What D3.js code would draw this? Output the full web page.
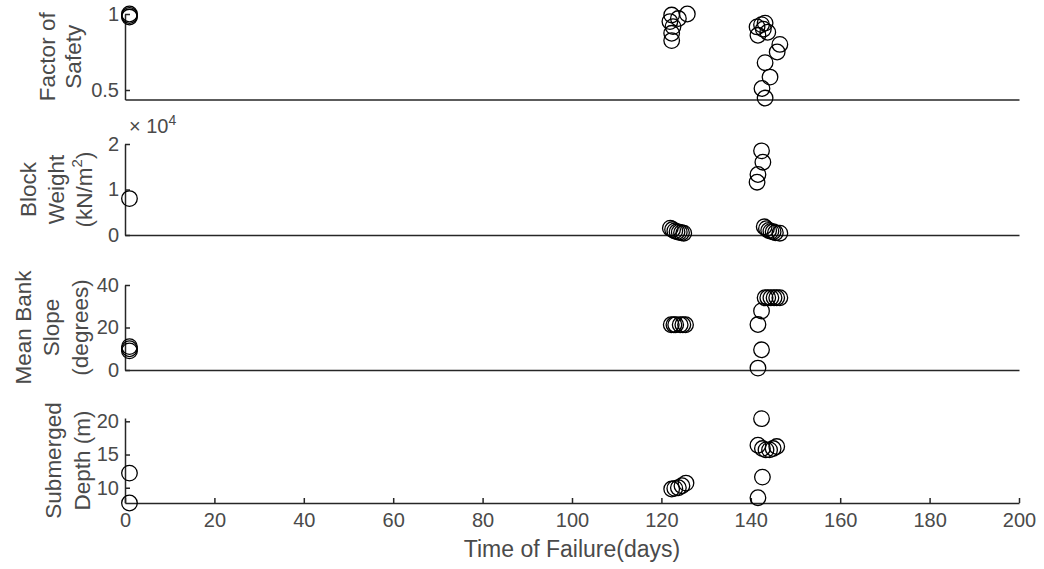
<!DOCTYPE html>
<html>
<head>
<meta charset="utf-8">
<script src="https://cdn.jsdelivr.net/npm/d3@7"></script>
<style>
  body { margin: 0; background: #fff; }
  svg text { font-family: "Liberation Sans", Arial, sans-serif; fill: #4a4a4a; }
  .axis path, .axis line { stroke: #262626; stroke-width: 1.5; }
</style>
</head>
<body>
<div id="chart"></div>
<script>
// data: time of failure (days) vs each quantity
var fosDays = [1, 1, 1, 122.3, 125.8, 121.9, 123.8, 122.6, 122.3, 122.3,
  141.4, 143.2, 143.8, 141.6, 146.5, 145.9, 143.2, 144.3, 142.5, 143.2, 142.4, 142.8];
var fosVals = [1.0, 0.98, 0.99, 0.993, 1.0, 0.95, 0.97, 0.917, 0.873, 0.825,
  0.915, 0.94, 0.88, 0.86, 0.80, 0.75, 0.68, 0.585, 0.51, 0.447, 0.93, 0.90];

var weightDays = [1, 122, 122.5, 123, 123.5, 124, 124.5, 125,
  142.4, 142.7, 141.6, 141.4, 143, 143.5, 144, 144.5, 145, 145.5, 146.5];
var weightVals = [8000, 1500, 1200, 900, 700, 600, 500, 400,
  18500, 16000, 13300, 11600, 1800, 1400, 1000, 800, 700, 500, 400];

var slopeDays = [1, 1, 1, 122.2, 122.8, 123.2, 124.2, 124.8, 125.4,
  143.2, 143.8, 144.5, 145.2, 145.8, 146.5, 142.4, 141.6, 142.4, 141.6];
var slopeVals = [11, 9, 10, 21.3, 21.3, 21.3, 21.3, 21.3, 21.3,
  34, 34, 34, 34, 34, 34, 27.8, 21.4, 9.5, 0.9];

var depthDays = [1, 1, 122.3, 123, 123.8, 124.6, 125.5,
  142.4, 141.6, 142.6, 143.4, 144.2, 145, 145.8, 142.6, 141.6];
var depthVals = [12.2, 7.7, 9.8, 9.9, 10.0, 10.3, 10.7,
  20.4, 16.4, 15.9, 15.7, 15.7, 15.9, 16.2, 11.6, 8.5];

var xTicks = [0, 20, 40, 60, 80, 100, 120, 140, 160, 180, 200];

var panels = [
  {days: fosDays, vals: fosVals, domain: [0.4375, 1.0], top: 14, bottom: 99.5,
   ticks: [0.5, 1], fmt: function(d) { return d === 1 ? "1" : d; },
   label: ["Factor of", "Safety"], labelX: [47, 73]},
  {days: weightDays, vals: weightVals, domain: [0, 20000], top: 144, bottom: 235,
   ticks: [0, 10000, 20000], fmt: function(d) { return d / 10000; },
   label: ["Block", "Weight", "(kN/m2)"], labelX: [28, 56, 84]},
  {days: slopeDays, vals: slopeVals, domain: [0, 40], top: 285, bottom: 370,
   ticks: [0, 20, 40], fmt: function(d) { return d; },
   label: ["Mean Bank", "Slope", "(degrees)"], labelX: [23, 51, 80]},
  {days: depthDays, vals: depthVals, domain: [7.7, 20.5], top: 418, bottom: 503,
   ticks: [10, 15, 20], fmt: function(d) { return d; },
   label: ["Submerged", "Depth (m)"], labelX: [53, 82]}
];

var width = 1044, height = 569;
var left = 125, right = 1019;

var svg = d3.select("#chart")
  .append("svg")
  .attr("width", width)
  .attr("height", height);

var x = d3.scaleLinear()
  .domain([0, 200])
  .range([left, right]);

panels.forEach(function(p, i) {
  var y = d3.scaleLinear()
    .domain(p.domain)
    .range([p.bottom, p.top]);

  // x axis line (ticks only on the last panel)
  var xa = d3.axisBottom(x).tickSizeOuter(0);
  if (i === panels.length - 1) {
    xa.tickValues(xTicks).tickSizeInner(-5).tickPadding(10);
  } else {
    xa.tickValues([]);
  }
  var gx = svg.append("g")
    .attr("class", "axis")
    .attr("transform", "translate(0," + p.bottom + ")")
    .call(xa);
  gx.selectAll("text").style("font-size", "20px").attr("fill", "#4a4a4a");

  // y axis, ticks pointing in
  var gy = svg.append("g")
    .attr("class", "axis")
    .attr("transform", "translate(" + left + ",0)")
    .call(d3.axisLeft(y).tickValues(p.ticks).tickFormat(p.fmt)
      .tickSizeInner(-5).tickSizeOuter(0).tickPadding(6));
  gy.selectAll("text").style("font-size", "20px").attr("fill", "#4a4a4a");

  // y label lines
  var mid = (p.top + p.bottom) / 2;
  p.label.forEach(function(line, j) {
    var t = svg.append("text")
      .attr("transform", "translate(" + p.labelX[j] + "," + mid + ") rotate(-90)")
      .attr("text-anchor", "middle")
      .attr("dominant-baseline", "central")
      .style("font-size", "22.5px");
    if (line === "(kN/m2)") {
      t.append("tspan").text("(kN/m");
      t.append("tspan").attr("dy", -8).style("font-size", "15px").text("2");
      t.append("tspan").attr("dy", 8).text(")");
    } else {
      t.text(line);
    }
  });

  // markers
  svg.append("g")
    .selectAll("circle")
    .data(p.days)
    .enter()
    .append("circle")
    .attr("cx", function(d) { return x(d); })
    .attr("cy", function(d, k) { return y(p.vals[k]); })
    .attr("r", 7.8)
    .attr("fill", "none")
    .attr("stroke", "#000")
    .attr("stroke-width", 1.3);
});

// exponent for block weight
var ex = svg.append("text")
  .attr("x", 129)
  .attr("y", 133)
  .style("font-size", "20px");
ex.append("tspan").text("\u00d7 10");
ex.append("tspan").attr("dy", -8).style("font-size", "14px").text("4");

// x axis title
svg.append("text")
  .attr("x", (left + right) / 2)
  .attr("y", 557)
  .attr("text-anchor", "middle")
  .style("font-size", "23px")
  .text("Time of Failure(days)");
</script>
</body>
</html>
